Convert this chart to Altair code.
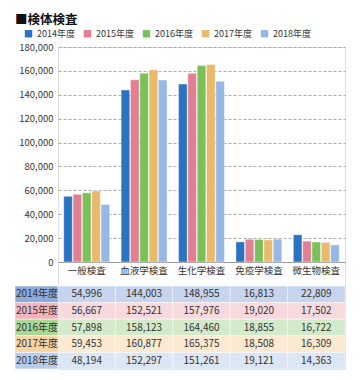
import altair as alt
import pandas as pd

categories = ["一般検査", "血液学検査", "生化学検査", "免疫学検査", "微生物検査"]
years = ["2014年度", "2015年度", "2016年度", "2017年度", "2018年度"]
v2014 = [54996, 144003, 148955, 16813, 22809]
v2015 = [56667, 152521, 157976, 19020, 17502]
v2016 = [57898, 158123, 164460, 18855, 16722]
v2017 = [59453, 160877, 165375, 18508, 16309]
v2018 = [48194, 152297, 151261, 19121, 14363]
y_ticks = [0, 20000, 40000, 60000, 80000, 100000, 120000, 140000, 160000, 180000]

bar_colors = ["#2a72c2", "#e27f93", "#7bc15a", "#eab96c", "#97b8e4"]
table_colors = ["#8eaadb", "#f2b3be", "#a9d897", "#f7d4a4", "#b9cdeb"]

rows = []
for yr, vals in zip(years, [v2014, v2015, v2016, v2017, v2018]):
    for c, v in zip(categories, vals):
        rows.append({"category": c, "year": yr, "value": v})
df = pd.DataFrame(rows)
ydf = pd.DataFrame({"year": years})

FONT = "Noto Sans CJK JP"
W = 287          # plot width
PH = 215         # bar plot height
T0, T1 = 239, 322  # table band (pixels inside the chart)
H = T1

bars = alt.Chart(df).mark_bar(stroke="white", strokeWidth=0.4).encode(
    x=alt.X("category:N", sort=categories,
            scale=alt.Scale(paddingInner=0.2, paddingOuter=0.1),
            axis=alt.Axis(title=None, labelAngle=0, ticks=False, domainColor="#999",
                          offset=PH - H, labelFontSize=9.5, labelPadding=3,
                          labelColor="#333", grid=False)),
    xOffset=alt.XOffset("year:N", sort=years, scale=alt.Scale(paddingInner=0.08)),
    y=alt.Y("value:Q", scale=alt.Scale(domain=[0, 180000], range=[PH, 0], nice=False),
            axis=alt.Axis(title=None, values=y_ticks, format=",d", grid=True,
                          gridDash=[3, 2], gridColor="#aaa", domain=False, ticks=False,
                          labelPadding=5, labelFontSize=9.5, labelColor="#333")),
    color=alt.Color("year:N", sort=years, scale=alt.Scale(domain=years, range=bar_colors),
                    legend=alt.Legend(title=None, orient="none", legendX=-34, legendY=-18,
                                      direction="horizontal", symbolType="square",
                                      symbolSize=55, symbolStrokeWidth=0, labelFontSize=9,
                                      labelColor="#333", columnPadding=8, labelOffset=4)),
)

yenc = alt.Y("year:N", sort=years,
             scale=alt.Scale(paddingInner=0, paddingOuter=0, range=[T0, T1]), axis=None)
xenc = alt.X("category:N", sort=categories,
             scale=alt.Scale(paddingInner=0, paddingOuter=0), axis=None)
fillenc = alt.Fill("year:N", sort=years, scale=alt.Scale(domain=years, range=table_colors),
                   legend=None)

cells = alt.Chart(df).mark_rect(fillOpacity=0.5, stroke="white", strokeWidth=0.5).encode(
    x=xenc, y=yenc, fill=fillenc)
header = alt.Chart(ydf).mark_rect(stroke="white", strokeWidth=0.5).encode(
    x=alt.value(-43), x2=alt.value(0), y=yenc, fill=fillenc)
header_text = alt.Chart(ydf).mark_text(fontSize=10, color="#333").encode(
    x=alt.value(-21), y=yenc, text="year:N")
value_text = alt.Chart(df).mark_text(fontSize=10, color="#333").encode(
    x=xenc, y=yenc, text=alt.Text("value:Q", format=",d"))

chart = alt.layer(bars, cells, header, header_text, value_text).resolve_scale(
    x="independent", y="independent"
).properties(
    width=W, height=H,
    autosize=alt.AutoSizeParams(type="none"),
    padding={"left": 50, "top": 39, "right": 7, "bottom": 3},
    title=alt.TitleParams("■検体検査", anchor="start", frame="group", dx=-43,
                          fontSize=12.5, fontWeight="bold", color="#111", offset=3),
).configure_view(stroke=None).configure(font=FONT)

chart.save("out.html", embed_options={"renderer": "svg", "actions": False})
